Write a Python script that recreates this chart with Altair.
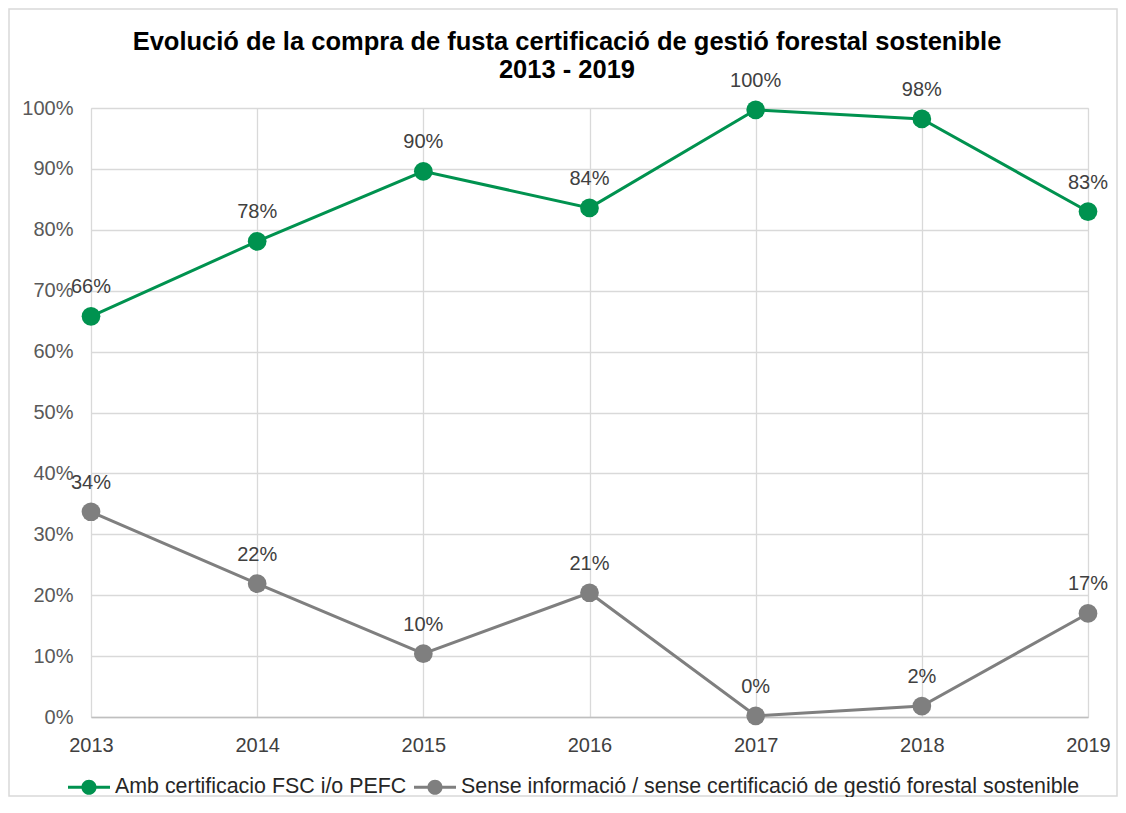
import altair as alt
import pandas as pd

years = [2013, 2014, 2015, 2016, 2017, 2018, 2019]
series_names = [
    "Amb certificacio FSC i/o PEFC",
    "Sense informació / sense certificació de gestió forestal sostenible",
]
certified = [0.658, 0.781, 0.896, 0.836, 0.997, 0.982, 0.830]
certified_labels = ["66%", "78%", "90%", "84%", "100%", "98%", "83%"]
uncertified = [0.337, 0.219, 0.104, 0.204, 0.002, 0.018, 0.170]
uncertified_labels = ["34%", "22%", "10%", "21%", "0%", "2%", "17%"]
y_ticks = [0, 0.1, 0.2, 0.3, 0.4, 0.5, 0.6, 0.7, 0.8, 0.9, 1.0]
colors = ["#00924F", "#7F7F7F"]
title_lines = [
    "Evolució de la compra de fusta certificació de gestió forestal sostenible",
    "2013 - 2019",
]

rows = []
for name, vals, labs in [
    (series_names[0], certified, certified_labels),
    (series_names[1], uncertified, uncertified_labels),
]:
    for y, v, l in zip(years, vals, labs):
        rows.append({"year": y, "value": v, "label": l, "series": name})
df = pd.DataFrame(rows)

FONT = "Liberation Sans"
W, H = 997, 609
PAD = {"left": 83, "top": 100, "right": 30, "bottom": 80}

x_enc = alt.X(
    "year:Q",
    scale=alt.Scale(domain=[2013, 2019], nice=False, zero=False),
    axis=alt.Axis(values=years, format="d", title=None, labelPadding=18,
                  labelFlush=False, ticks=False, domainColor="#BFBFBF",
                  domainWidth=1.5, gridColor="#D9D9D9", gridWidth=1.3,
                  labelFontSize=20, labelColor="#404040", labelFont=FONT),
)
y_enc = alt.Y(
    "value:Q",
    scale=alt.Scale(domain=[0, 1], nice=False),
    axis=alt.Axis(values=y_ticks, format=".0%", title=None, labelPadding=18,
                  labelFlush=False, ticks=False, domain=False,
                  gridColor="#D9D9D9", gridWidth=1.3,
                  labelFontSize=20, labelColor="#595959", labelFont=FONT),
)
color_scale = alt.Scale(domain=series_names, range=colors)

legend_symbol = (
    "M-1,-0.07H1V0.07H-1Z"
    "M-0.36,0A0.36,0.36,0,1,1,0.36,0A0.36,0.36,0,1,1,-0.36,0Z"
)

base = alt.Chart(df)

lines = base.mark_line(strokeWidth=3).encode(
    x=x_enc, y=y_enc,
    color=alt.Color("series:N", scale=color_scale, legend=None),
    detail="series:N",
)
points = base.mark_circle(size=350, opacity=1).encode(
    x=x_enc, y=y_enc,
    color=alt.Color(
        "series:N", scale=color_scale, sort=series_names,
        legend=alt.Legend(
            title=None, orient="none", direction="horizontal",
            legendX=-23, legendY=658, symbolType=legend_symbol,
            symbolSize=1764, symbolStrokeWidth=0, symbolOpacity=1,
            labelFontSize=21.4, labelFont=FONT, labelColor="#262626",
            labelLimit=900, labelOffset=5, columnPadding=7, padding=0,
        ),
    ),
)
labels = base.mark_text(dy=-29, fontSize=20, font=FONT, color="#404040").encode(
    x=x_enc, y=y_enc, text="label:N",
)

title_df = pd.DataFrame({"t": ["\n".join(title_lines)]})
title = alt.Chart(title_df).mark_text(
    fontSize=25.5, fontWeight="bold", font=FONT, color="#000000",
    align="center", baseline="middle", lineBreak="\n", lineHeight=28,
    clip=False,
).encode(
    text="t:N",
    x=alt.value(476),
    y=alt.value(-66),
)

border = alt.Chart(pd.DataFrame({"a": [0]})).mark_rect(
    fill="transparent", stroke="#D9D9D9", strokeWidth=1.5, clip=False
).encode(
    x=alt.value(-PAD["left"] + 1), x2=alt.value(W + PAD["right"] - 1),
    y=alt.value(-PAD["top"] + 1), y2=alt.value(H + PAD["bottom"] - 1),
)

chart = alt.layer(border, lines, points, labels, title).resolve_legend(
    color="independent"
).properties(
    width=W, height=H,
    padding=PAD,
    autosize=alt.AutoSizeParams(type="none"),
).configure_view(stroke=None).configure(background="white")

chart.save("out.html", embed_options={"renderer": "svg", "actions": False})
